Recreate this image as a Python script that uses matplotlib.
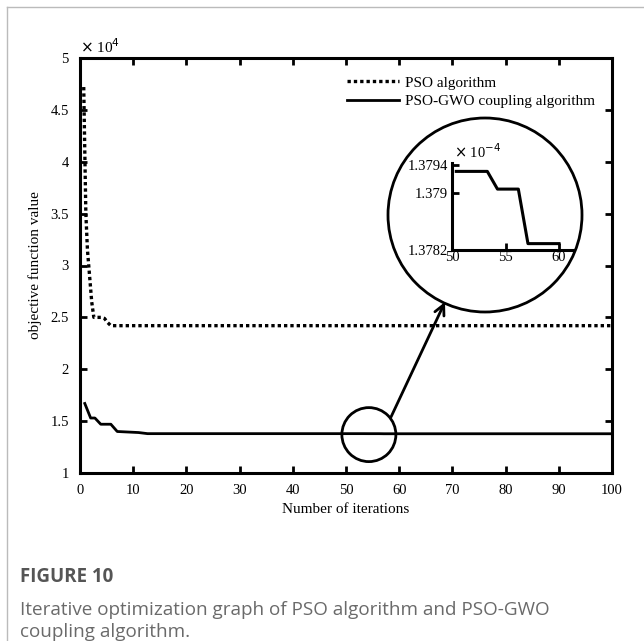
import matplotlib
matplotlib.use("Agg")
import matplotlib.pyplot as plt
from matplotlib.patches import Ellipse
from matplotlib.lines import Line2D
import numpy as np

# values in units of 1e4
pso_iter = [0.7, 0.9, 1.1, 1.4, 1.8, 2.2, 2.6, 3.0, 4.0, 4.6, 5.2, 5.8, 100]
pso_val = [4.72, 4.10, 3.50, 3.15, 2.90, 2.65, 2.50, 2.50, 2.50, 2.49, 2.45, 2.42, 2.42]

gwo_iter = [0.9, 2.0, 2.8, 3.9, 5.8, 7.0, 9.0, 11.0, 12.7, 50.4, 53.3, 54.25, 56.2, 57.1, 60, 100]
gwo_val = [1.67, 1.53, 1.53, 1.47, 1.47, 1.40, 1.395, 1.39, 1.3793, 1.37931, 1.37931,
           1.37906, 1.37906, 1.37829, 1.37829, 1.37829]

x_ticks = list(range(0, 101, 10))
y_ticks = [1, 1.5, 2, 2.5, 3, 3.5, 4, 4.5, 5]
y_tick_labels = ["1", "1.5", "2", "2.5", "3", "3.5", "4", "4.5", "5"]
inset_xticks = [50, 55, 60]
inset_yticks = [1.3782, 1.379, 1.3794]
inset_ytick_labels = ["1.3782", "1.379", "1.3794"]

W, H = 644, 641
serif = "Liberation Serif"

fig = plt.figure(figsize=(W / 100, H / 100), dpi=100)
fig.patch.set_facecolor("white")


def fx(px):
    return px / W


def fy(py):
    return 1 - py / H


# main axes
ax = fig.add_axes([fx(80), fy(473), fx(612) - fx(80), fy(58) - fy(473)])
ax.plot(pso_iter, pso_val, color="black", lw=2.4, linestyle=(0, (1, 0.9)),
        label="PSO algorithm")
ax.plot(gwo_iter, gwo_val, color="black", lw=2.0, label="PSO-GWO coupling algorithm")
ax.set_xlim(0, 100)
ax.set_ylim(1, 5)
ax.set_xticks(x_ticks)
ax.set_yticks(y_ticks)
ax.set_yticklabels(y_tick_labels)
for s in ax.spines.values():
    s.set_linewidth(2.2)
ax.tick_params(direction="in", length=5, width=2, top=True, right=True,
               labelsize=10.5, pad=8)
for lab in ax.get_xticklabels() + ax.get_yticklabels():
    lab.set_fontfamily(serif)
ax.set_xlabel("Number of iterations", fontfamily=serif, fontsize=11, labelpad=4)
ax.set_ylabel("objective function value", fontfamily=serif, fontsize=11, labelpad=6)
ax.text(0.0, 1.005, r"$\times$ 10$^{4}$", transform=ax.transAxes, fontfamily=serif,
        fontsize=11, ha="left", va="bottom")

leg = ax.legend(loc="upper left", bbox_to_anchor=(fx(347), fy(76)),
                bbox_transform=fig.transFigure, frameon=False,
                prop={"family": serif, "size": 11}, handlelength=3.4,
                handletextpad=0.4, labelspacing=0.3, borderpad=0, borderaxespad=0)

# small circle around the zoom region
ax.add_patch(Ellipse((54.3, 1.37), width=54 / 532 * 100, height=54 / 415 * 4,
                     fill=False, lw=2, ec="black", zorder=5))

# big circle for the inset
cx, cy, r = 485, 215, 97
fig.patches.append(Ellipse((fx(cx), fy(cy)), width=2 * r / W, height=2 * r / H,
                           transform=fig.transFigure, fill=False, lw=2, ec="black",
                           zorder=6))
fig.patches.append(Ellipse((fx(cx), fy(cy)), width=2 * r / W - 0.004, height=2 * r / H - 0.004,
                           transform=fig.transFigure, fill=True, lw=0, fc="white", zorder=5))

# arrow
ax.annotate("", xy=(fx(445), fy(302)), xycoords="figure fraction",
            xytext=(fx(391), fy(417)), textcoords="figure fraction",
            arrowprops=dict(arrowstyle="->", lw=2, color="black",
                            mutation_scale=18, shrinkA=0, shrinkB=0))

# inset axes
ia = fig.add_axes([fx(452), fy(250), fx(574) - fx(452), fy(163) - fy(250)], zorder=10)
ia.patch.set_alpha(0)
sel = [i for i, v in enumerate(gwo_iter) if 50 <= v <= 60]
ia.plot([gwo_iter[i] for i in sel], [gwo_val[i] for i in sel], color="black", lw=2.2)
ia.set_xlim(50, 50 + (574 - 452) / ((559 - 452) / 10))
ia.set_ylim(1.3782, 1.3794 + 2 / 70250 * 1)
ia.set_xticks(inset_xticks)
ia.set_yticks(inset_yticks)
ia.set_yticklabels(inset_ytick_labels)
ia.spines["top"].set_visible(False)
ia.spines["right"].set_visible(False)
for s in ["left", "bottom"]:
    ia.spines[s].set_linewidth(2.2)
ia.tick_params(direction="in", length=5, width=2, labelsize=10.5)
ia.tick_params(axis="y", pad=3)
ia.tick_params(axis="x", pad=1)
for lab in ia.get_xticklabels() + ia.get_yticklabels():
    lab.set_fontfamily(serif)
ia.text(0.02, 1.02, r"$\times$ 10$^{-4}$", transform=ia.transAxes, fontfamily=serif,
        fontsize=10.5, ha="left", va="bottom")

# page border
fig.add_artist(Line2D([fx(7), 1], [fy(7), fy(7)], color="#bbbbbb", lw=1))
fig.add_artist(Line2D([fx(7), fx(7)], [fy(7), 0], color="#bbbbbb", lw=1))

# caption
cap_font = "Open Sans"
fig.text(fx(20), fy(577), "FIGURE 10", fontfamily=cap_font, fontweight="bold",
         fontsize=13.5, color="#555555", va="center", ha="left")
fig.text(fx(20), fy(610), "Iterative optimization graph of PSO algorithm and PSO-GWO",
         fontfamily=cap_font, fontsize=13.6, color="#6a6a6a", va="center", ha="left")
fig.text(fx(20), fy(632), "coupling algorithm.", fontfamily=cap_font, fontsize=13.6,
         color="#6a6a6a", va="center", ha="left")

fig.savefig("out.png", dpi=100)
